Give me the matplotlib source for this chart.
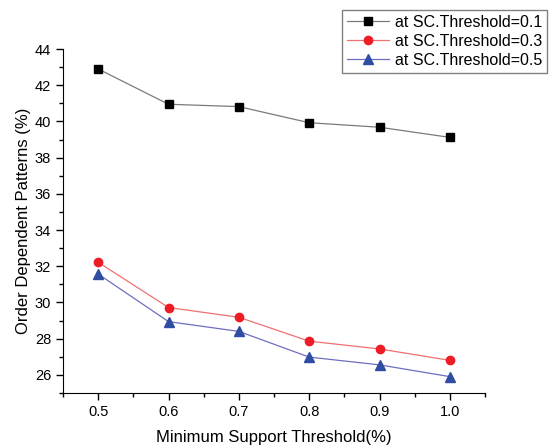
import matplotlib.pyplot as plt
from matplotlib.ticker import MultipleLocator

plt.rcParams['font.family'] = ['Liberation Sans', 'DejaVu Sans']

support = [0.5, 0.6, 0.7, 0.8, 0.9, 1.0]
sc_01 = [42.9, 40.95, 40.82, 39.93, 39.68, 39.12]
sc_03 = [32.22, 29.72, 29.18, 27.86, 27.43, 26.80]
sc_05 = [31.57, 28.94, 28.40, 26.98, 26.55, 25.90]
labels = ['at SC.Threshold=0.1', 'at SC.Threshold=0.3', 'at SC.Threshold=0.5']

fig = plt.figure(figsize=(5.59, 4.46), dpi=100)
ax = fig.add_axes([0.1127, 0.119, 0.755, 0.771])

ax.plot(support, sc_01, color='#7a7a7a', lw=0.9, marker='s', ms=5.5,
        mfc='black', mec='black', label=labels[0])
ax.plot(support, sc_03, color='#f07070', lw=0.9, marker='o', ms=6,
        mfc='#ee1c25', mec='#ee1c25', label=labels[1])
ax.plot(support, sc_05, color='#6e6ec0', lw=0.9, marker='^', ms=6.5,
        mfc='#2f4ea3', mec='#2f4ea3', label=labels[2])

ax.set_xlim(0.45, 1.05)
ax.set_ylim(25, 44)
ax.xaxis.set_major_locator(MultipleLocator(0.1))
ax.xaxis.set_minor_locator(MultipleLocator(0.05))
ax.yaxis.set_major_locator(MultipleLocator(2))
ax.yaxis.set_minor_locator(MultipleLocator(1))
ax.set_xticks(support)
ax.set_xticklabels(['0.5', '0.6', '0.7', '0.8', '0.9', '1.0'])
ax.tick_params(which='major', direction='out', length=5, width=1, labelsize=10.5)
ax.tick_params(which='minor', direction='out', length=3, width=1)
ax.spines['top'].set_visible(False)
ax.spines['right'].set_visible(False)

ax.set_xlabel('Minimum Support Threshold(%)', fontsize=12, labelpad=8)
ax.set_ylabel('Order Dependent Patterns (%)', fontsize=12, labelpad=3)

fig.legend(loc='upper right', bbox_to_anchor=(0.993, 0.995), fontsize=11.5,
           frameon=True, fancybox=False, edgecolor='#808080', framealpha=1,
           handlelength=2.6, borderpad=0.3, labelspacing=0.25, handletextpad=0.4)

fig.savefig('out.png', dpi=100)
